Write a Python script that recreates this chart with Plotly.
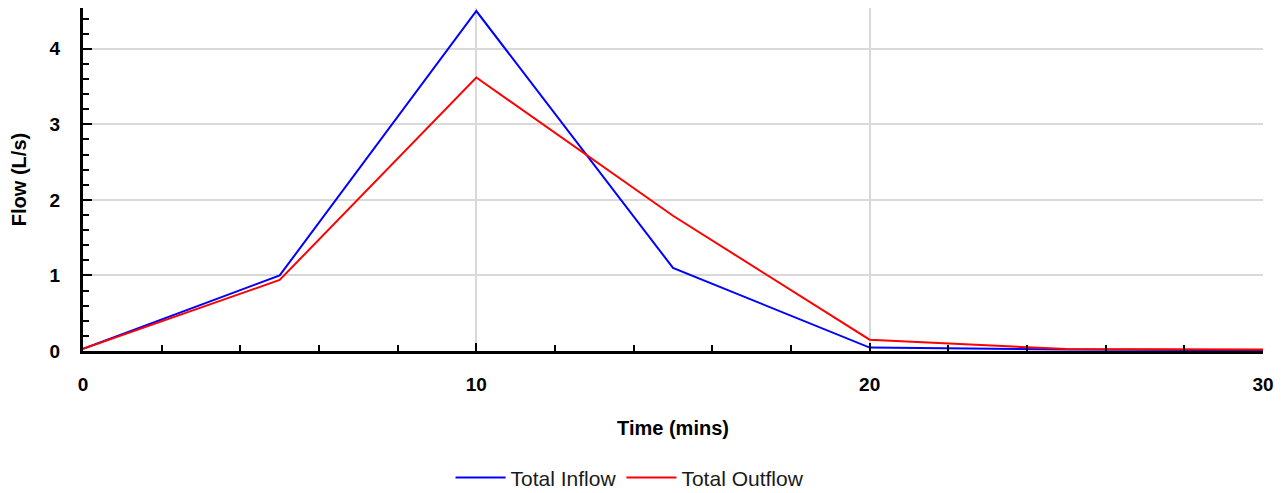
import plotly.graph_objects as go

time_mins = [0, 5, 10, 15, 20, 25, 30]
total_inflow = [0.03, 1.00, 4.50, 1.10, 0.045, 0.02, 0.01]
total_outflow = [0.03, 0.94, 3.62, 1.79, 0.15, 0.025, 0.02]

x_ticks = [0, 10, 20, 30]
y_ticks = [0, 1, 2, 3, 4]

font_family = "Liberation Sans, Arial, sans-serif"

fig = go.Figure()
fig.add_trace(go.Scatter(x=time_mins, y=total_inflow, mode="lines", name="Total Inflow",
                         line=dict(color="#0000ff", width=2)))
fig.add_trace(go.Scatter(x=time_mins, y=total_outflow, mode="lines", name="Total Outflow",
                         line=dict(color="#ff0000", width=2)))

fig.update_layout(
    width=1288, height=493,
    margin=dict(l=83, r=25, t=8, b=142, autoexpand=False),
    paper_bgcolor="white", plot_bgcolor="white",
    font=dict(family=font_family, color="#000000"),
    showlegend=True,
    legend=dict(orientation="h", x=0.4636, xanchor="center", y=-0.37, yanchor="middle",
                font=dict(size=21, color="#1a1a1a"), itemwidth=50, bgcolor="rgba(0,0,0,0)"),
    xaxis=dict(
        range=[0, 30], tickmode="array", tickvals=x_ticks, ticktext=[str(v) for v in x_ticks],
        showgrid=True, gridcolor="#d9d9d9", gridwidth=2,
        showline=True, linecolor="#000000", linewidth=3,
        ticks="inside", ticklen=8, tickwidth=2, tickcolor="#000000",
        minor=dict(dtick=2, ticks="inside", ticklen=6, tickwidth=2, tickcolor="#000000", showgrid=False),
        tickfont=dict(size=19, family=font_family, weight="bold"),
        ticklabelstandoff=14,
        title=dict(text="<b>Time (mins)</b>", font=dict(size=20), standoff=28),
        zeroline=False, automargin=False,
    ),
    yaxis=dict(
        range=[0, 4.54], tickmode="array", tickvals=y_ticks, ticktext=[str(v) for v in y_ticks],
        showgrid=True, gridcolor="#d9d9d9", gridwidth=2,
        showline=True, linecolor="#000000", linewidth=3,
        ticks="inside", ticklen=9, tickwidth=2, tickcolor="#000000",
        minor=dict(dtick=0.2, ticks="inside", ticklen=6, tickwidth=2, tickcolor="#000000", showgrid=False),
        tickfont=dict(size=19, family=font_family, weight="bold"),
        ticklabelstandoff=16,
        title=dict(text="<b>Flow (L/s)</b>", font=dict(size=20), standoff=18),
        zeroline=False, automargin=False,
    ),
)

fig.write_html("out.html")
